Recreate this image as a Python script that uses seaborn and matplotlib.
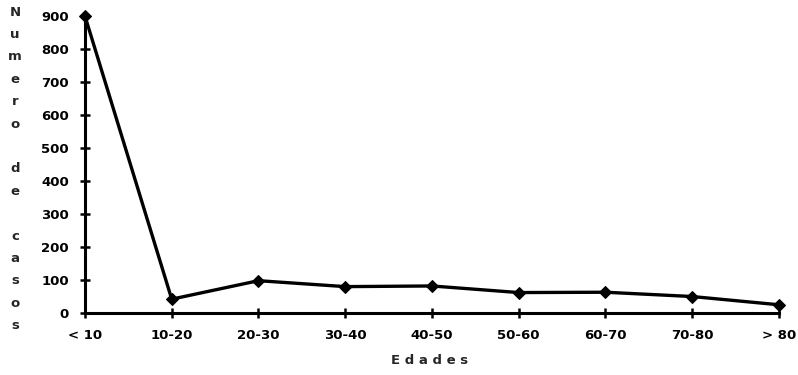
import matplotlib
matplotlib.use("Agg")
import matplotlib.pyplot as plt
import pandas as pd
import seaborn as sns

# age groups and number of cases
edades = ["< 10", "10-20", "20-30", "30-40", "40-50", "50-60", "60-70", "70-80", "> 80"]
casos = [900, 42, 98, 80, 82, 62, 63, 50, 25]
y_ticks = [0, 100, 200, 300, 400, 500, 600, 700, 800, 900]

df = pd.DataFrame({"edad": edades, "casos": casos})

sns.set_theme(style="white")
plt.rcParams["font.family"] = ["DejaVu Sans"]

fig = plt.figure(figsize=(7.98, 3.75), dpi=100)
ax = fig.add_axes([0.1065, 0.1653, 0.8695, 0.7917])

sns.lineplot(data=df, x="edad", y="casos", sort=False, color="black",
             linewidth=2.4, marker="D", markersize=6, markeredgecolor="black",
             clip_on=False, ax=ax)

ax.set_xlim(0, len(edades) - 1)
ax.set_ylim(0, 900)
ax.set_yticks(y_ticks)
ax.set_xticks(range(len(edades)))
ax.set_xticklabels(edades)
for side in ["top", "right"]:
    ax.spines[side].set_visible(False)
for side in ["left", "bottom"]:
    ax.spines[side].set_linewidth(2.2)
    ax.spines[side].set_color("black")
ax.tick_params(axis="both", direction="inout", length=7, width=1.8, colors="black",
               labelsize=9.5, bottom=True, left=True)
ax.tick_params(axis="x", pad=8)
ax.tick_params(axis="y", pad=8)
for lbl in ax.get_xticklabels() + ax.get_yticklabels():
    lbl.set_fontweight("bold")
ax.set_xlabel("")
ax.set_ylabel("")
ax.grid(False)

# stacked vertical y label
label = "Numero de casos"
top_px, step_px = 12, 22.4
for i, ch in enumerate(label):
    if ch == " ":
        continue
    fig.text(15 / 798, 1 - (top_px + i * step_px) / 375, ch, ha="center", va="center",
             fontsize=9.5, fontweight="bold")

fig.text(430 / 798, 1 - 360 / 375, "E d a d e s", ha="center", va="center",
         fontsize=9.5, fontweight="bold")

fig.savefig("out.png", dpi=100, facecolor="white")
